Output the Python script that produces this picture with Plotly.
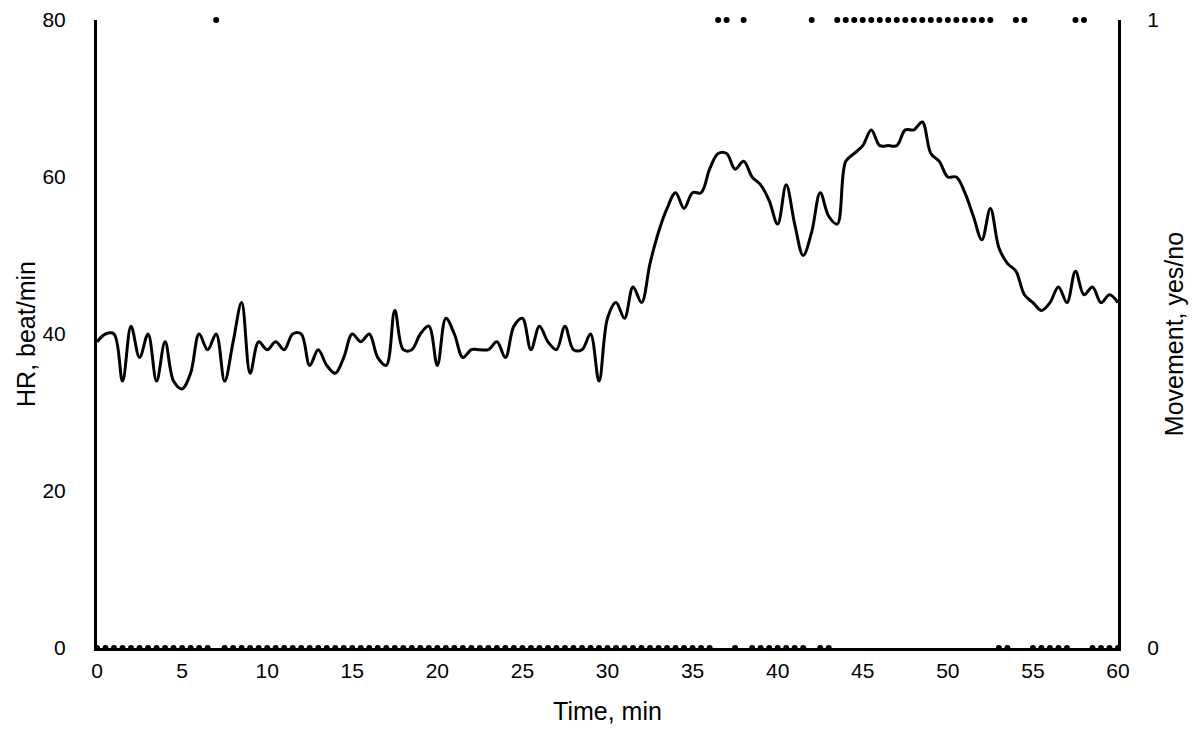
import plotly.graph_objects as go
from plotly.subplots import make_subplots

# time in minutes, every half minute
time_min = [i * 0.5 for i in range(121)]

hr = [39, 40, 40, 34, 41, 37, 40, 34, 39, 34,
      33, 35, 40, 38, 40, 34, 39, 44, 35, 39,
      38, 39, 38, 40, 40, 36, 38, 36, 35, 37,
      40, 39, 40, 37, 36, 43, 38, 38, 40, 41,
      36, 42, 40, 37, 38, 38, 38, 39, 37, 41,
      42, 38, 41, 39, 38, 41, 38, 38, 40, 34,
      42, 44, 42, 46, 44, 49, 53, 56, 58, 56,
      58, 58, 61, 63, 63, 61, 62, 60, 59, 57,
      54, 59, 54, 50, 53, 58, 55, 54, 62, 63,
      64, 66, 64, 64, 64, 66, 66, 67, 63, 62,
      60, 60, 58, 55, 52, 56, 51, 49, 48, 45,
      44, 43, 44, 46, 44, 48, 45, 46, 44, 45,
      44]

movement = [0, 0, 0, 0, 0, 0, 0, 0, 0, 0,
            0, 0, 0, 0, 1, 0, 0, 0, 0, 0,
            0, 0, 0, 0, 0, 0, 0, 0, 0, 0,
            0, 0, 0, 0, 0, 0, 0, 0, 0, 0,
            0, 0, 0, 0, 0, 0, 0, 0, 0, 0,
            0, 0, 0, 0, 0, 0, 0, 0, 0, 0,
            0, 0, 0, 0, 0, 0, 0, 0, 0, 0,
            0, 0, 0, 1, 1, 0, 1, 0, 0, 0,
            0, 0, 0, 0, 1, 0, 0, 1, 1, 1,
            1, 1, 1, 1, 1, 1, 1, 1, 1, 1,
            1, 1, 1, 1, 1, 1, 0, 0, 1, 1,
            0, 0, 0, 0, 0, 1, 1, 0, 0, 0,
            0]

font = "Liberation Sans, Arial, sans-serif"

fig = make_subplots(specs=[[{"secondary_y": True}]])

fig.add_trace(
    go.Scatter(
        x=time_min, y=movement,
        mode='markers',
        marker=dict(color='black', size=6),
        cliponaxis=False,
        name="Movement"),
    secondary_y=True)

fig.add_trace(
    go.Scatter(
        x=time_min, y=hr,
        mode='lines',
        line=dict(color='black', width=3, shape='spline', smoothing=1),
        name="HR"),
    secondary_y=False)

# page body has an 8px margin, so the figure is a bit smaller than the window
fig.update_layout(
    template='none',
    showlegend=False,
    width=1192, height=729,
    margin=dict(l=89, r=82, t=12, b=89, autoexpand=False),
    font=dict(family=font, size=21, color='black'),
    plot_bgcolor='white', paper_bgcolor='white')

fig.update_xaxes(
    domain=[0, 1],
    range=[0, 60], dtick=5, showgrid=False, zeroline=False,
    showline=True, linecolor='black', linewidth=3,
    ticks='', ticklabelstandoff=2, automargin=False,
    tickfont=dict(size=21),
    title=dict(text="Time, min", standoff=22))
fig.update_yaxes(
    range=[0, 80], dtick=20, showgrid=False, zeroline=False,
    showline=True, linecolor='black', linewidth=3,
    ticks='', ticklabelstandoff=24, automargin=False,
    tickfont=dict(size=21),
    title=dict(text="HR, beat/min", standoff=0),
    secondary_y=False)
fig.update_yaxes(
    range=[0, 1], dtick=1, showgrid=False, zeroline=False,
    showline=True, linecolor='black', linewidth=3,
    ticks='', ticklabelstandoff=22, automargin=False,
    tickfont=dict(size=21),
    title=dict(text="Movement, yes/no", standoff=8),
    secondary_y=True)

fig.write_html("out.html")
